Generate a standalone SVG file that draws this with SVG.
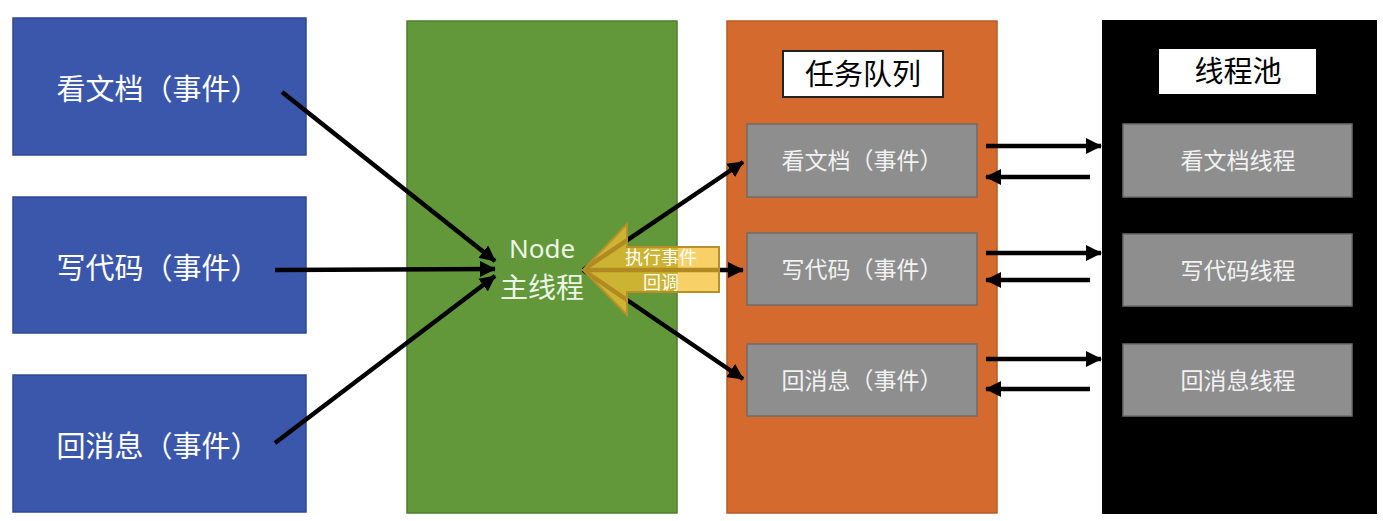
<svg xmlns="http://www.w3.org/2000/svg" width="1383" height="521" viewBox="0 0 1383 521">
<style>
.ev{fill:#3B57AB;stroke:#2E4A92;stroke-width:1.5}
.evt{fill:#FFFFFF;font-family:"Noto Sans CJK SC","Noto Sans",sans-serif;font-size:29px;text-anchor:middle}
.gb{fill:#8E8E8E;stroke:#6C6C6C;stroke-width:1.5}
.gbt{fill:#F2F2F2;font-family:"Noto Sans CJK SC","Noto Sans",sans-serif;font-size:23px;text-anchor:middle}
.ttl{fill:#000;font-family:"Noto Sans CJK SC","Noto Sans",sans-serif;font-size:29px;text-anchor:middle}
.ln{stroke:#000;stroke-width:4.5;fill:none;marker-end:url(#ah)}
</style>
<defs>
<marker id="ah" markerUnits="userSpaceOnUse" markerWidth="16" markerHeight="16" viewBox="0 0 16 16" refX="15" refY="8" orient="auto">
<path d="M0,0 L16,8 L0,16 Z" fill="#000"/>
</marker>
</defs>
<rect width="1383" height="521" fill="#FFFFFF"/>

<g id="event-docs"><rect class="ev" x="13" y="18" width="293" height="137"/><text class="evt" x="158" y="100">看文档（事件）</text></g>
<g id="event-code"><rect class="ev" x="13" y="197" width="293" height="136"/><text class="evt" x="158" y="279">写代码（事件）</text></g>
<g id="event-msg"><rect class="ev" x="13" y="375" width="293" height="137"/><text class="evt" x="158" y="457">回消息（事件）</text></g>

<g id="node-main">
<rect x="407" y="21" width="270" height="492" fill="#62983A" stroke="#4E7C2C" stroke-width="1.5"/>
<text x="542" y="258" fill="#EEF5E6" font-family="'Noto Sans','Open Sans',sans-serif" font-size="26" text-anchor="middle">Node</text>
<text x="542" y="298" fill="#EEF5E6" font-family="'Noto Sans CJK SC',sans-serif" font-size="28" text-anchor="middle">主线程</text>
</g>

<g id="task-queue">
<rect x="727" y="21" width="270" height="492" fill="#D46A2E" stroke="#B85A25" stroke-width="1.5"/>
<rect x="783" y="51" width="160" height="46" fill="#FFFFFF" stroke="#222" stroke-width="2"/>
<text class="ttl" x="863" y="85">任务队列</text>
</g>
<g id="tq-docs"><rect class="gb" x="747" y="124" width="230" height="73"/><text class="gbt" x="862" y="169">看文档（事件）</text></g>
<g id="tq-code"><rect class="gb" x="747" y="233" width="230" height="72"/><text class="gbt" x="862" y="278">写代码（事件）</text></g>
<g id="tq-msg"><rect class="gb" x="747" y="344" width="230" height="72"/><text class="gbt" x="862" y="389">回消息（事件）</text></g>

<g id="thread-pool">
<rect x="1102" y="20" width="275" height="494" fill="#000000"/>
<rect x="1159" y="49" width="157" height="45" fill="#FFFFFF"/>
<text class="ttl" x="1238" y="82">线程池</text>
</g>
<g id="tp-docs"><rect class="gb" x="1123" y="124" width="229" height="73"/><text class="gbt" x="1238" y="169">看文档线程</text></g>
<g id="tp-code"><rect class="gb" x="1123" y="234" width="229" height="72"/><text class="gbt" x="1238" y="279">写代码线程</text></g>
<g id="tp-msg"><rect class="gb" x="1123" y="344" width="229" height="72"/><text class="gbt" x="1238" y="389">回消息线程</text></g>

<g id="connectors">
<line class="ln" x1="282" y1="92" x2="495" y2="261"/>
<line class="ln" x1="275" y1="270" x2="495" y2="269"/>
<line class="ln" x1="275" y1="443" x2="495" y2="276"/>
<line class="ln" x1="583" y1="270" x2="743" y2="162"/>
<line class="ln" x1="583" y1="270" x2="743" y2="270"/>
<line class="ln" x1="583" y1="270" x2="743" y2="379"/>
<line class="ln" x1="986" y1="146" x2="1101" y2="146"/>
<line class="ln" x1="1090" y1="177" x2="986" y2="177"/>
<line class="ln" x1="986" y1="253" x2="1101" y2="253"/>
<line class="ln" x1="1090" y1="280" x2="986" y2="280"/>
<line class="ln" x1="986" y1="359" x2="1101" y2="359"/>
<line class="ln" x1="1090" y1="389" x2="986" y2="389"/>
</g>

<g id="callback-arrow">
<path d="M583,270 L627,224 L627,247 L719,247 L719,292 L627,292 L627,315 Z" fill="#F5BE2E" fill-opacity="0.72" stroke="#B8902A" stroke-width="2"/>
<text x="661" y="264" fill="#FFFFFF" font-family="'Noto Sans CJK SC',sans-serif" font-size="18" text-anchor="middle">执行事件</text>
<text x="661" y="289" fill="#FFFFFF" font-family="'Noto Sans CJK SC',sans-serif" font-size="18" text-anchor="middle">回调</text>
</g>
</svg>
